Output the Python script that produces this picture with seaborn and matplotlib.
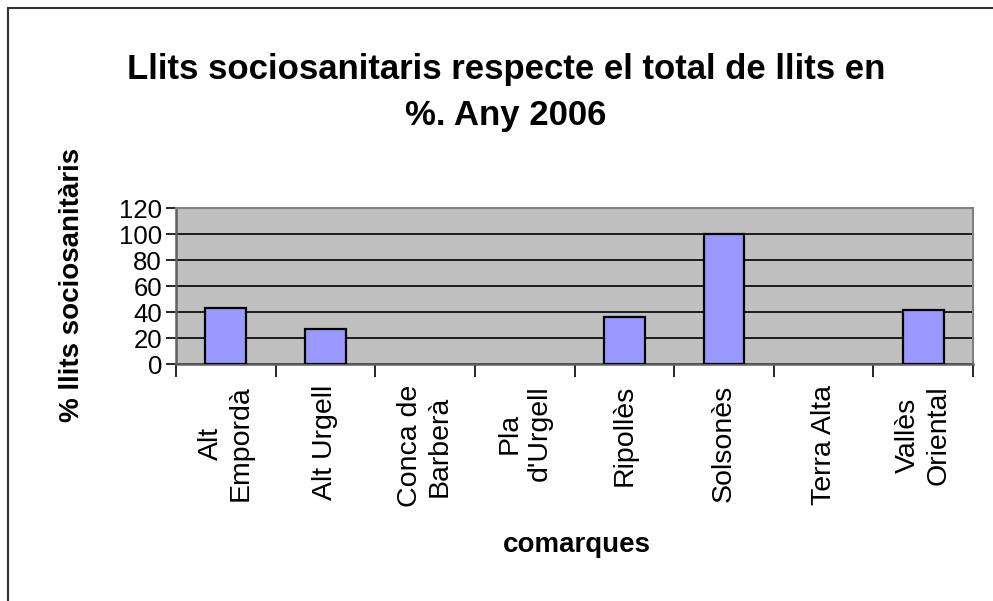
import matplotlib
matplotlib.use("Agg")
import matplotlib.pyplot as plt
import seaborn as sns
import pandas as pd
from matplotlib.patches import Rectangle

comarques = ["Alt\nEmpordà", "Alt Urgell", "Conca de\nBarberà", "Pla\nd'Urgell",
             "Ripollès", "Solsonès", "Terra Alta", "Vallès\nOriental"]
valors = [43.5, 27.2, 0, 0, 36.4, 100, 0, 41.8]
yticks = [0, 20, 40, 60, 80, 100, 120]

sns.set_theme(style="white")
plt.rcParams['font.family'] = ['Liberation Sans', 'DejaVu Sans']
plt.rcParams['text.color'] = 'black'
plt.rcParams['xtick.color'] = 'black'
plt.rcParams['ytick.color'] = 'black'
plt.rcParams['axes.labelcolor'] = 'black'

df = pd.DataFrame({"comarca": comarques, "valor": valors})

fig = plt.figure(figsize=(9.93, 6.01), dpi=100)
fig.patch.set_facecolor("white")
ax = fig.add_axes([176/993, 1-364.3/601, 797/993, 156/601])
ax.set_facecolor("#C0C0C0")

sns.barplot(data=df, x="comarca", y="valor", ax=ax, color="#9999FF",
            width=0.41, edgecolor="black", linewidth=1.6, saturation=1, zorder=3)
for p in ax.patches:
    if p.get_height() == 0:
        p.set_linewidth(0)
        p.set_visible(False)

ax.set_ylim(0, 120)
ax.set_xlim(-0.5, len(comarques) - 0.5)
ax.set_yticks(yticks)
ax.set_yticklabels([str(v) for v in yticks], fontsize=18.5, color="black")
ax.yaxis.grid(True, color="black", linewidth=1.2, zorder=1)
ax.set_axisbelow(True)

ax.set_xticks(range(len(comarques)))
ax.set_xticklabels(comarques, rotation=90, fontsize=20.5, ha="center", va="top",
                   multialignment="center", color="black")
ax.set_xticks([i - 0.5 for i in range(len(comarques) + 1)], minor=True)
ax.tick_params(axis="x", which="major", length=0, pad=15)
ax.tick_params(axis="x", which="minor", length=9, width=1.2, color="black", bottom=True)
ax.tick_params(axis="y", which="major", length=7, width=1.2, color="black", left=True, pad=3)

for s in ["top", "right"]:
    ax.spines[s].set_color("#808080")
    ax.spines[s].set_linewidth(1.5)
for s in ["left", "bottom"]:
    ax.spines[s].set_color("#606060")
    ax.spines[s].set_linewidth(1.8)
ax.set_xlabel("")
ax.set_ylabel("")

fig.text(506/993, 1-70/601, "Llits sociosanitaris respecte el total de llits en",
         ha="center", va="center", fontsize=25, fontweight="bold", color="black")
fig.text(506/993, 1-115/601, "%. Any 2006",
         ha="center", va="center", fontsize=25, fontweight="bold", color="black")
fig.text(72/993, 1-285/601, "% llits sociosanitàris", rotation=90,
         ha="center", va="center", fontsize=20, fontweight="bold", color="black")
fig.text(577/993, 1-545/601, "comarques", ha="center", va="center",
         fontsize=20, fontweight="bold", color="black")

fig.patches.append(Rectangle((8/993, -0.1), 1.2, 1 - 8/601 + 0.1,
                             transform=fig.transFigure, fill=False,
                             edgecolor="#333333", linewidth=1.5))

fig.savefig("out.png", dpi=100)
